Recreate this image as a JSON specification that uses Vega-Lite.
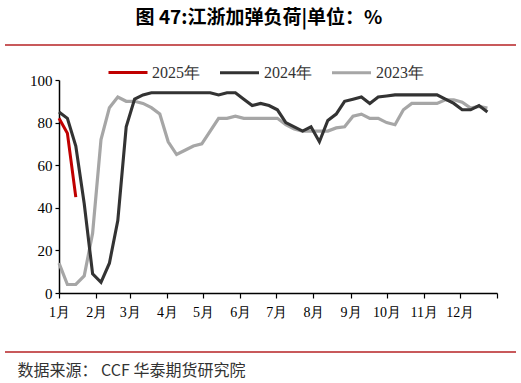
{
  "$schema": "https://vega.github.io/schema/vega-lite/v6.json",
  "width": 438,
  "height": 213,
  "autosize": "none",
  "padding": {"left": 59, "top": 80, "right": 24, "bottom": 90},
  "background": "white",
  "config": {"view": {"stroke": null}},
  "title": {
    "text": "图  47:江浙加弹负荷|单位：%",
    "font": "Noto Sans CJK SC",
    "fontSize": 19,
    "fontWeight": "bold",
    "color": "#000000",
    "anchor": "middle",
    "frame": "group",
    "offset": 16,
    "dx": -19
  },
  "datasets": {
    "lines": [
      {"s": "2023年", "d": 0, "v": 14}, {"s": "2023年", "d": 7, "v": 4}, {"s": "2023年", "d": 14, "v": 4}, {"s": "2023年", "d": 21, "v": 8}, {"s": "2023年", "d": 28, "v": 28},
      {"s": "2023年", "d": 35, "v": 72}, {"s": "2023年", "d": 42, "v": 87}, {"s": "2023年", "d": 49, "v": 92}, {"s": "2023年", "d": 56, "v": 90}, {"s": "2023年", "d": 63, "v": 90},
      {"s": "2023年", "d": 70, "v": 89}, {"s": "2023年", "d": 77, "v": 87}, {"s": "2023年", "d": 84, "v": 84}, {"s": "2023年", "d": 91, "v": 71}, {"s": "2023年", "d": 98, "v": 65},
      {"s": "2023年", "d": 105, "v": 67}, {"s": "2023年", "d": 112, "v": 69}, {"s": "2023年", "d": 119, "v": 70}, {"s": "2023年", "d": 126, "v": 76}, {"s": "2023年", "d": 133, "v": 82},
      {"s": "2023年", "d": 140, "v": 82}, {"s": "2023年", "d": 147, "v": 83}, {"s": "2023年", "d": 154, "v": 82}, {"s": "2023年", "d": 161, "v": 82}, {"s": "2023年", "d": 168, "v": 82},
      {"s": "2023年", "d": 175, "v": 82}, {"s": "2023年", "d": 182, "v": 82}, {"s": "2023年", "d": 189, "v": 79}, {"s": "2023年", "d": 196, "v": 77}, {"s": "2023年", "d": 203, "v": 76},
      {"s": "2023年", "d": 210, "v": 76}, {"s": "2023年", "d": 217, "v": 76}, {"s": "2023年", "d": 224, "v": 76}, {"s": "2023年", "d": 231, "v": 77.5}, {"s": "2023年", "d": 238, "v": 78},
      {"s": "2023年", "d": 245, "v": 83}, {"s": "2023年", "d": 252, "v": 84}, {"s": "2023年", "d": 259, "v": 82}, {"s": "2023年", "d": 266, "v": 82}, {"s": "2023年", "d": 273, "v": 80},
      {"s": "2023年", "d": 280, "v": 79}, {"s": "2023年", "d": 287, "v": 86}, {"s": "2023年", "d": 294, "v": 89}, {"s": "2023年", "d": 301, "v": 89}, {"s": "2023年", "d": 308, "v": 89},
      {"s": "2023年", "d": 315, "v": 89}, {"s": "2023年", "d": 322, "v": 90.7}, {"s": "2023年", "d": 329, "v": 90.7}, {"s": "2023年", "d": 336, "v": 89.6}, {"s": "2023年", "d": 343, "v": 86.8},
      {"s": "2023年", "d": 350, "v": 87.6}, {"s": "2023年", "d": 357, "v": 86.8},
      {"s": "2024年", "d": 0, "v": 85}, {"s": "2024年", "d": 7, "v": 82}, {"s": "2024年", "d": 14, "v": 69}, {"s": "2024年", "d": 21, "v": 42}, {"s": "2024年", "d": 28, "v": 9},
      {"s": "2024年", "d": 35, "v": 5}, {"s": "2024年", "d": 42, "v": 14}, {"s": "2024年", "d": 49, "v": 34}, {"s": "2024年", "d": 56, "v": 78}, {"s": "2024年", "d": 63, "v": 91},
      {"s": "2024年", "d": 70, "v": 93}, {"s": "2024年", "d": 77, "v": 94}, {"s": "2024年", "d": 84, "v": 94}, {"s": "2024年", "d": 91, "v": 94}, {"s": "2024年", "d": 98, "v": 94},
      {"s": "2024年", "d": 105, "v": 94}, {"s": "2024年", "d": 112, "v": 94}, {"s": "2024年", "d": 119, "v": 94}, {"s": "2024年", "d": 126, "v": 94}, {"s": "2024年", "d": 133, "v": 93},
      {"s": "2024年", "d": 140, "v": 94}, {"s": "2024年", "d": 147, "v": 94}, {"s": "2024年", "d": 154, "v": 91}, {"s": "2024年", "d": 161, "v": 88}, {"s": "2024年", "d": 168, "v": 89},
      {"s": "2024年", "d": 175, "v": 88}, {"s": "2024年", "d": 182, "v": 86}, {"s": "2024年", "d": 189, "v": 80}, {"s": "2024年", "d": 196, "v": 78}, {"s": "2024年", "d": 203, "v": 76},
      {"s": "2024年", "d": 210, "v": 78}, {"s": "2024年", "d": 217, "v": 71}, {"s": "2024年", "d": 224, "v": 81}, {"s": "2024年", "d": 231, "v": 84}, {"s": "2024年", "d": 238, "v": 90},
      {"s": "2024年", "d": 245, "v": 91}, {"s": "2024年", "d": 252, "v": 92}, {"s": "2024年", "d": 259, "v": 89}, {"s": "2024年", "d": 266, "v": 92}, {"s": "2024年", "d": 273, "v": 92.5},
      {"s": "2024年", "d": 280, "v": 93}, {"s": "2024年", "d": 287, "v": 93}, {"s": "2024年", "d": 294, "v": 93}, {"s": "2024年", "d": 301, "v": 93}, {"s": "2024年", "d": 308, "v": 93},
      {"s": "2024年", "d": 315, "v": 93}, {"s": "2024年", "d": 322, "v": 91}, {"s": "2024年", "d": 329, "v": 89}, {"s": "2024年", "d": 336, "v": 86}, {"s": "2024年", "d": 343, "v": 86},
      {"s": "2024年", "d": 350, "v": 88}, {"s": "2024年", "d": 357, "v": 85},
      {"s": "2025年", "d": 0, "v": 82}, {"s": "2025年", "d": 7, "v": 75}, {"s": "2025年", "d": 14, "v": 45}
    ],
    "deco": [{"k": "sep"}]
  },
  "layer": [
    {
      "data": {"name": "deco"},
      "mark": {"type": "rule", "color": "#c8595b", "strokeWidth": 2},
      "encoding": {"x": {"value": -54}, "x2": {"value": 457}, "y": {"value": -35}}
    },
    {
      "data": {"name": "deco"},
      "mark": {"type": "rule", "color": "#c8595b", "strokeWidth": 2},
      "encoding": {"x": {"value": -54}, "x2": {"value": 457}, "y": {"value": 272}}
    },
    {
      "data": {"name": "lines"},
      "mark": {"type": "line", "strokeJoin": "miter", "strokeCap": "butt"},
      "encoding": {
        "x": {
          "field": "d",
          "type": "quantitative",
          "scale": {"domain": [0, 365], "nice": false, "zero": false},
          "axis": {
            "title": "数据来源： CCF  华泰期货研究院",
            "titleFont": "Noto Sans CJK SC",
            "titleFontSize": 16,
            "titleFontWeight": "normal",
            "titleColor": "#333333",
            "titleAnchor": "start",
            "titleAlign": "left",
            "titleX": -42,
            "titleY": 77,
            "titleBaseline": "middle",
            "values": [0, 31, 59, 90, 120, 151, 181, 212, 243, 273, 304, 334, 365],
            "labelExpr": "datum.value >= 365 ? '' : (indexof([0,31,59,90,120,151,181,212,243,273,304,334], datum.value) + 1) + '月'",
            "labelFont": "Times New Roman",
            "labelFontSize": 14,
            "labelColor": "#000000",
            "labelPadding": 7,
            "labelFlush": false,
            "labelOverlap": false,
            "tickSize": 5,
            "tickColor": "#000000",
            "tickWidth": 1.2,
            "domainColor": "#000000",
            "domainWidth": 1.5,
            "grid": false
          }
        },
        "y": {
          "field": "v",
          "type": "quantitative",
          "scale": {"domain": [0, 100], "nice": false},
          "axis": {
            "title": null,
            "values": [0, 20, 40, 60, 80, 100],
            "labelFont": "Times New Roman",
            "labelFontSize": 15,
            "labelColor": "#000000",
            "labelPadding": 3,
            "tickSize": 4,
            "tickColor": "#000000",
            "tickWidth": 1.2,
            "domainColor": "#000000",
            "domainWidth": 1.5,
            "grid": false
          }
        },
        "color": {
          "field": "s",
          "type": "nominal",
          "scale": {"domain": ["2025年", "2024年", "2023年"], "range": ["#c00000", "#333333", "#a6a6a6"]},
          "legend": {
            "title": null,
            "orient": "none",
            "legendX": 48,
            "legendY": -29,
            "direction": "horizontal",
            "symbolType": "stroke",
            "symbolSize": 1521,
            "labelFont": "Times New Roman",
            "labelFontSize": 16,
            "labelColor": "#333333",
            "labelOffset": 3,
            "columnPadding": 13,
            "padding": 0
          }
        },
        "strokeWidth": {
          "field": "s",
          "type": "nominal",
          "scale": {"domain": ["2025年", "2024年", "2023年"], "range": [3, 3.2, 1.8]},
          "legend": {
            "title": null,
            "orient": "none",
            "legendX": 48,
            "legendY": -29,
            "direction": "horizontal",
            "symbolType": "stroke",
            "symbolSize": 1521,
            "labelFont": "Times New Roman",
            "labelFontSize": 16,
            "labelColor": "#333333",
            "labelOffset": 3,
            "columnPadding": 13,
            "padding": 0
          }
        }
      }
    }
  ]
}
